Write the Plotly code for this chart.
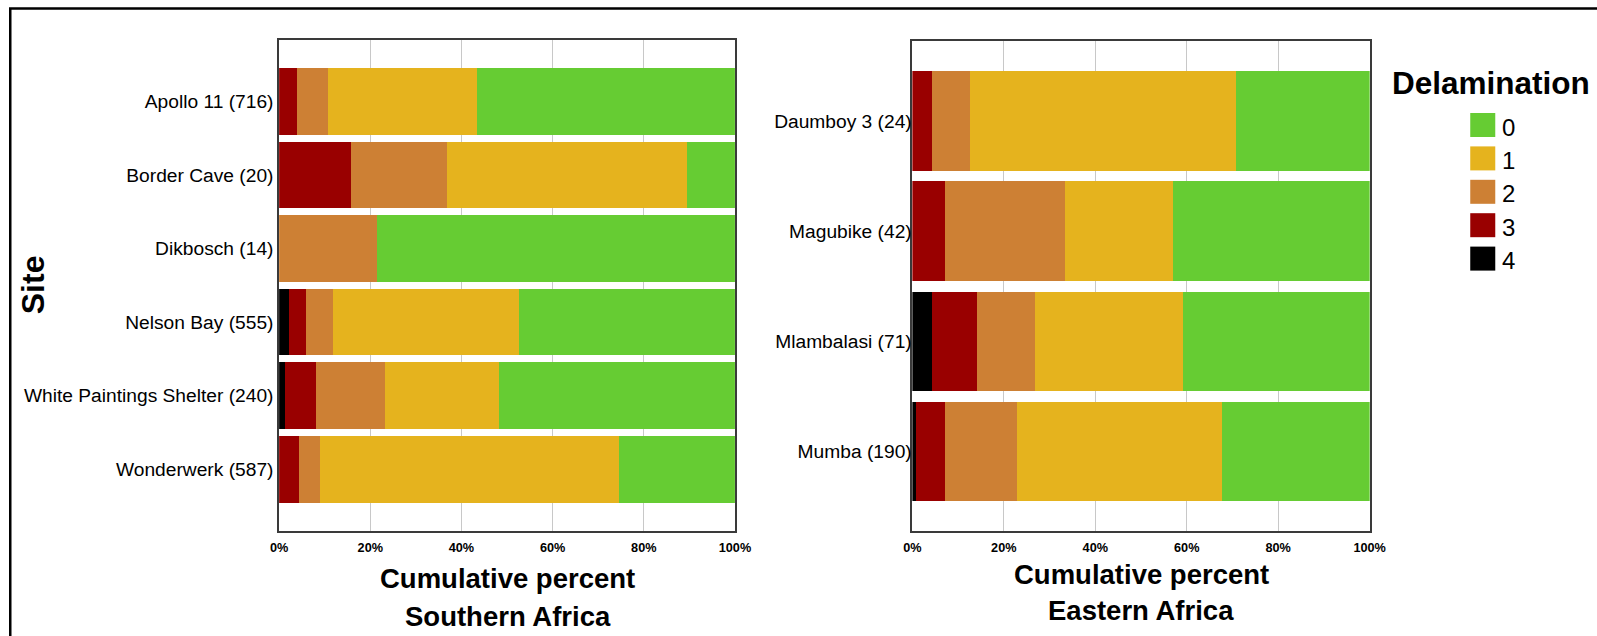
import plotly.graph_objects as go

# ---- data: percent of flakes at each delamination stage, per site ----
south_sites = ["Apollo 11 (716)", "Border Cave (20)", "Dikbosch (14)",
               "Nelson Bay (555)", "White Paintings Shelter (240)", "Wonderwerk (587)"]
south_d4 = [0.0, 0.0, 0.0, 2.1, 1.3, 0.0]
south_d3 = [3.9, 15.8, 0.0, 3.8, 6.7, 4.4]
south_d2 = [6.8, 21.0, 21.4, 6.0, 15.3, 4.5]
south_d1 = [32.6, 52.7, 0.0, 40.8, 25.0, 65.7]
south_d0 = [56.7, 10.5, 78.6, 47.3, 51.7, 25.4]

east_sites = ["Daumboy 3 (24)", "Magubike (42)", "Mlambalasi (71)", "Mumba (190)"]
east_d4 = [0.0, 0.0, 4.2, 0.7]
east_d3 = [4.2, 7.1, 9.9, 6.4]
east_d2 = [8.3, 26.2, 12.7, 15.8]
east_d1 = [58.3, 23.8, 32.4, 44.7]
east_d0 = [29.2, 42.9, 40.8, 32.4]

levels = ["0", "1", "2", "3", "4"]
level_colors = {"0": "#66CC33", "1": "#E5B31E", "2": "#CD8034", "3": "#990000", "4": "#000000"}

x_ticks = [0, 20, 40, 60, 80, 100]
x_ticktext = ["0%", "20%", "40%", "60%", "80%", "100%"]

W, H = 1597, 636
FONT = "Liberation Sans, Arial, Helvetica, sans-serif"


def px(x):
    # horizontal page position (px) -> paper fraction, allowing for the host page offset
    return max(0.0, (1.0166 * x - 8.9) / W)


def py(y):
    return 1 - y / H


fig = go.Figure()

south = {"4": south_d4, "3": south_d3, "2": south_d2, "1": south_d1, "0": south_d0}
east = {"4": east_d4, "3": east_d3, "2": east_d2, "1": east_d1, "0": east_d0}

# stacked from the most delaminated (left) to none (right)
for lvl in ["4", "3", "2", "1", "0"]:
    fig.add_trace(go.Bar(y=south_sites, x=south[lvl], orientation="h",
                         name=lvl, marker=dict(color=level_colors[lvl], line=dict(width=0)),
                         xaxis="x", yaxis="y", showlegend=False))
    fig.add_trace(go.Bar(y=east_sites, x=east[lvl], orientation="h",
                         name=lvl, marker=dict(color=level_colors[lvl], line=dict(width=0)),
                         xaxis="x2", yaxis="y2", showlegend=False))

axis_common = dict(showline=True, linecolor="#3a3a3a", linewidth=1.6, mirror=True,
                   zeroline=False)

fig.update_layout(
    width=W, height=H,
    margin=dict(l=0, r=0, t=0, b=0),
    paper_bgcolor="white", plot_bgcolor="white",
    barmode="stack", bargap=0.095,
    font=dict(family=FONT, color="black"),
    xaxis=dict(domain=[px(278.7), px(734.2)], range=[0, 100], anchor="y",
               tickvals=x_ticks, ticktext=x_ticktext, showgrid=True,
               gridcolor="#c8c8c8", gridwidth=1, ticks="",
               tickfont=dict(size=12.7, family=FONT, weight="bold"),
               ticklabelstandoff=4, **axis_common),
    yaxis=dict(domain=[py(530.5), py(40)], anchor="x", type="category",
               categoryorder="array", categoryarray=south_sites,
               range=[5.832, -0.832], showgrid=False, ticks="",
               tickfont=dict(size=19.2, family=FONT), ticklabelstandoff=0,
               **axis_common),
    xaxis2=dict(domain=[px(911.5), px(1368.5)], range=[0, 100], anchor="y2",
                tickvals=x_ticks, ticktext=x_ticktext, showgrid=True,
                gridcolor="#c8c8c8", gridwidth=1, ticks="",
                tickfont=dict(size=12.7, family=FONT, weight="bold"),
                ticklabelstandoff=4, **axis_common),
    yaxis2=dict(domain=[py(530.5), py(40.7)], anchor="x2", type="category",
                categoryorder="array", categoryarray=east_sites,
                range=[3.716, -0.729], showgrid=False, ticks="",
                tickfont=dict(size=19.2, family=FONT), ticklabelstandoff=-5,
                **axis_common),
)

title_font = dict(size=27.5, family=FONT, color="black", weight="bold")
annotations = [
    dict(text="Cumulative percent", x=px(507), y=py(578), font=title_font),
    dict(text="Southern Africa", x=px(507), y=py(616), font=title_font),
    dict(text="Cumulative percent", x=px(1140), y=py(574), font=title_font),
    dict(text="Eastern Africa", x=px(1140), y=py(610), font=title_font),
    dict(text="Site", x=px(33), y=py(285), textangle=-90,
         font=dict(size=32, family=FONT, color="black", weight="bold")),
    dict(text="Delamination", x=px(1490), y=py(83),
         font=dict(size=31.5, family=FONT, color="black", weight="bold")),
]

# legend: coloured squares with their stage labels
shapes = []
for i, lvl in enumerate(levels):
    cy = 125 + i * 33.4
    shapes.append(dict(type="rect", xref="paper", yref="paper",
                       x0=px(1469), x1=px(1494), y0=py(cy + 12), y1=py(cy - 12),
                       fillcolor=level_colors[lvl], line=dict(width=0)))
    annotations.append(dict(text=lvl, x=px(1499), y=py(cy + 2), xanchor="left",
                            font=dict(size=24, family=FONT, color="black")))

# outer frame (runs off the right and bottom edges)
shapes.append(dict(type="rect", xref="paper", yref="paper",
                   x0=0.0008, x1=1.05, y0=-0.05, y1=py(8.5),
                   line=dict(color="black", width=2.5), fillcolor="rgba(0,0,0,0)"))

for a in annotations:
    a.setdefault("xref", "paper")
    a.setdefault("yref", "paper")
    a.setdefault("showarrow", False)
    a.setdefault("xanchor", "center")
    a.setdefault("yanchor", "middle")

fig.update_layout(annotations=annotations, shapes=shapes)

fig.write_html("out.html")
